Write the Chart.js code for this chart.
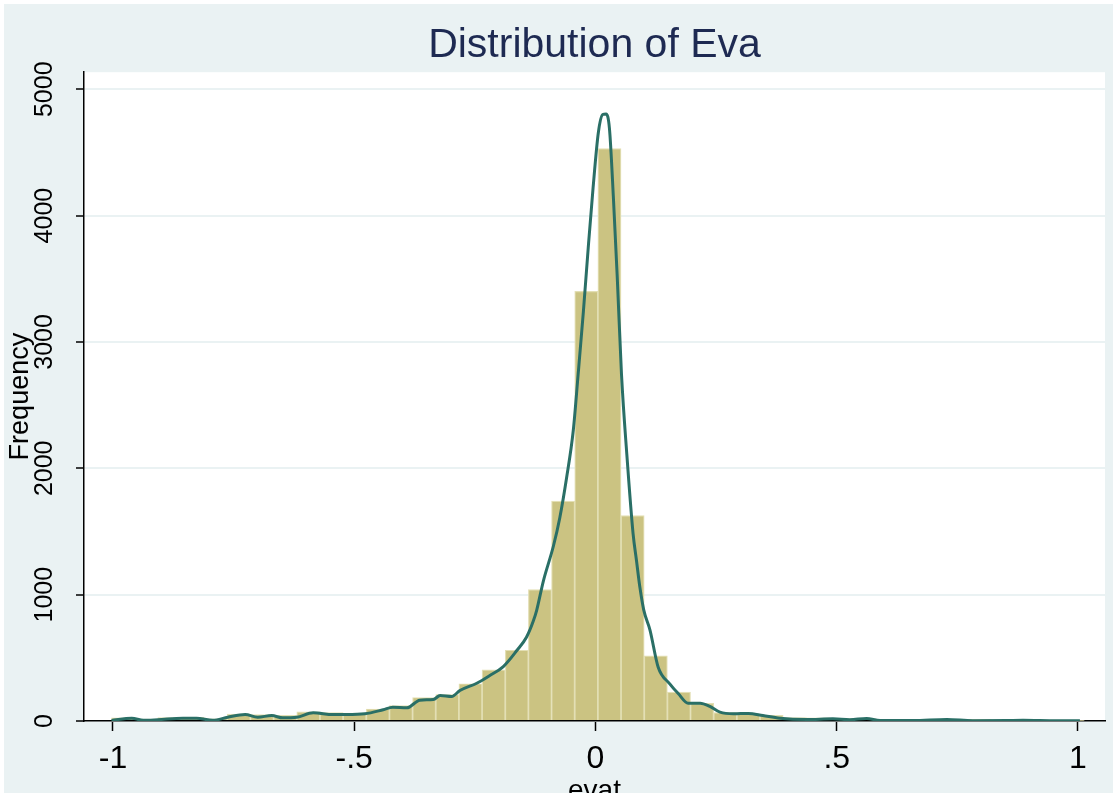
<!DOCTYPE html>
<html>
<head>
<meta charset="utf-8">
<script src="https://cdn.jsdelivr.net/npm/chart.js@4"></script>
<style>
  html, body { margin: 0; padding: 0; background: #ffffff; overflow: hidden; }
  #wrap { position: absolute; left: 4px; top: 4px; width: 1109px; height: 806px; background: #eaf2f3; }
</style>
</head>
<body>
<div id="wrap"><canvas id="chart"></canvas></div>
<script>
// histogram bins (centres) and counts
const binCenters = [-0.979, -0.931, -0.883, -0.835, -0.787, -0.739, -0.691, -0.643, -0.595, -0.547,
    -0.499, -0.451, -0.403, -0.355, -0.307, -0.259, -0.211, -0.163, -0.115, -0.067,
    -0.019, 0.029, 0.077, 0.125, 0.173, 0.221, 0.269, 0.317, 0.365, 0.413,
    0.461, 0.509, 0.557, 0.605, 0.653, 0.701, 0.749, 0.797, 0.845, 0.893, 0.941, 0.989];
const frequency = [25, 15, 28, 30, 18, 55, 50, 45, 72, 66,
    62, 95, 122, 186, 210, 295, 405, 560, 1040, 1740,
    3400, 4530, 1625, 515, 228, 140, 66, 55, 45, 28,
    25, 20, 18, 12, 10, 12, 10, 12, 8, 8, 6, 5];

// kernel density, scaled to frequency
const densX = [-1.003, -0.961, -0.937, -0.907, -0.855, -0.827, -0.793, -0.762, -0.726, -0.700,
    -0.671, -0.648, -0.619, -0.585, -0.544, -0.516, -0.478, -0.440, -0.420, -0.391,
    -0.364, -0.336, -0.322, -0.298, -0.281, -0.246, -0.219, -0.191, -0.163, -0.143,
    -0.129, -0.122, -0.108, -0.087, -0.074, -0.060, -0.046, -0.036, -0.025, -0.015,
    -0.005, 0.006, 0.015, 0.022, 0.029, 0.037, 0.045, 0.054, 0.065, 0.078,
    0.085, 0.092, 0.100, 0.113, 0.130, 0.154, 0.172, 0.192, 0.217, 0.237,
    0.258, 0.286, 0.317, 0.347, 0.382, 0.438, 0.492, 0.527, 0.562, 0.590,
    0.658, 0.728, 0.782, 0.852, 0.886, 0.956, 1.004];
const densY = [5, 22, 5, 10, 22, 22, 5, 30, 51, 30,
    43, 25, 30, 65, 51, 51, 57, 89, 109, 104,
    165, 170, 202, 194, 241, 299, 360, 431, 558, 663,
    789, 874, 1108, 1387, 1607, 1921, 2299, 2739, 3242, 3745,
    4217, 4658, 4800, 4805, 4689, 4155, 3525, 2739, 2110, 1481,
    1270, 1060, 880, 720, 426, 294, 215, 141, 141, 115,
    70, 57, 60, 43, 22, 12, 17, 10, 20, 4,
    4, 12, 2, 4, 6, 2, 2];

const xTicks = [-1, -0.5, 0, 0.5, 1];
const yTicks = [0, 1000, 2000, 3000, 4000, 5000];

const FONT = "'Liberation Sans', Arial, sans-serif";

// white plot region like Stata's
const plotBg = {
    id: "plotBg",
    beforeDraw(chart) {
        const a = chart.chartArea;
        const ctx = chart.ctx;
        ctx.save();
        ctx.fillStyle = "#ffffff";
        ctx.fillRect(a.left, a.top, a.right - a.left, a.bottom - a.top);
        ctx.restore();
    }
};

new Chart(document.getElementById("chart"), {
    data: {
        datasets: [
            {
                type: "line",
                data: densX.map((x, i) => ({ x: x, y: densY[i] })),
                borderColor: "#2a6f66",
                borderWidth: 3,
                pointRadius: 0,
                tension: 0.4,
                cubicInterpolationMode: "monotone",
                order: 0
            },
            {
                type: "bar",
                data: binCenters.map((x, i) => ({ x: x, y: frequency[i] })),
                backgroundColor: "#cbc382",
                borderColor: "#e3dfb4",
                borderWidth: 1.2,
                barPercentage: 1,
                categoryPercentage: 1,
                order: 1
            }
        ]
    },
    options: {
        responsive: true,
        maintainAspectRatio: false,
        animation: false,
        layout: { padding: { left: 0, right: 8, top: 0, bottom: 0 } },
        plugins: {
            legend: { display: false },
            tooltip: { enabled: false },
            title: {
                display: true,
                text: "Distribution of Eva",
                fullSize: false,
                color: "#1e2a52",
                font: { family: FONT, size: 41, weight: "normal" },
                padding: { top: 17, bottom: 2 }
            }
        },
        scales: {
            x: {
                type: "linear",
                offset: false,
                min: -1.06,
                max: 1.056,
                afterBuildTicks: s => { s.ticks = xTicks.map(v => ({ value: v })); },
                afterFit: s => { s.height = 89; },
                border: { display: true, color: "#000000", width: 1.5 },
                grid: { display: true, offset: false, drawOnChartArea: false, drawTicks: true, tickLength: 10, tickColor: "#000000", tickWidth: 1.5 },
                ticks: {
                    color: "#000000",
                    padding: 9,
                    maxRotation: 0,
                    font: { family: FONT, size: 32 },
                    callback: v => String(v).replace("0.", ".")
                },
                title: {
                    display: true,
                    text: "evat",
                    color: "#000000",
                    font: { family: FONT, size: 28 },
                    padding: { top: 0, bottom: 2 }
                }
            },
            y: {
                type: "linear",
                min: 0,
                max: 5135,
                afterBuildTicks: s => { s.ticks = yTicks.map(v => ({ value: v })); },
                afterFit: s => { s.width = 80; s.paddingTop = 0; s.paddingBottom = 0; },
                border: { display: true, color: "#000000", width: 1.5 },
                grid: { color: "#eaf2f3", lineWidth: 2, tickLength: 8, tickColor: "#000000", tickWidth: 1.5 },
                ticks: {
                    color: "#000000",
                    padding: 3,
                    minRotation: 90,
                    maxRotation: 90,
                    crossAlign: "center",
                    font: { family: FONT, size: 25 },
                    callback: v => String(v)
                },
                title: {
                    display: true,
                    text: "Frequency",
                    color: "#000000",
                    font: { family: FONT, size: 27 },
                    padding: { top: 0, bottom: 0 }
                }
            }
        }
    },
    plugins: [plotBg]
});
</script>
</body>
</html>
